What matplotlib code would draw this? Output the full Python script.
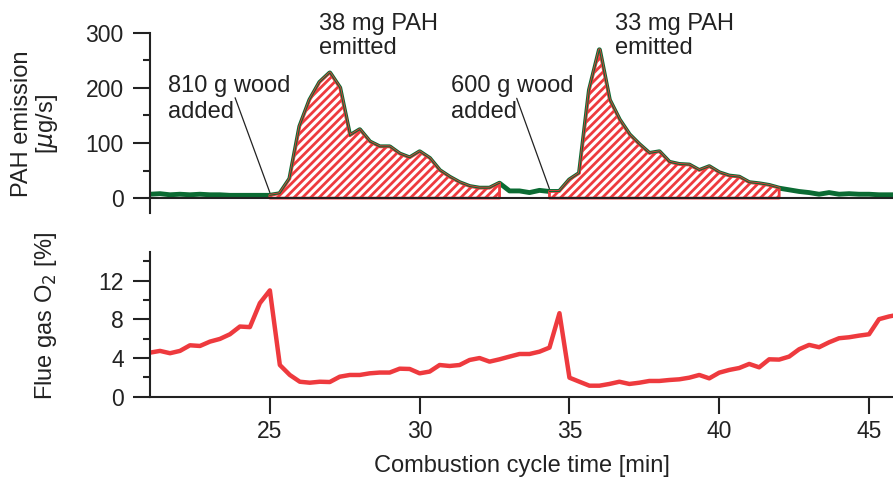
import numpy as np
import matplotlib.pyplot as plt
from matplotlib.ticker import MultipleLocator

plt.rcParams['font.family'] = ['Liberation Sans', 'DejaVu Sans']
plt.rcParams['hatch.linewidth'] = 2.0

# sampling every 20 s over the combustion cycle
time_min = np.arange(21.0, 46.01, 1 / 3)

pah = [7, 8, 6, 7, 6, 7, 6, 6, 5, 5, 5, 5, 5,
       8, 35, 130, 178, 210, 227, 200, 113, 124, 102, 93, 93,
       80, 73, 84, 72, 50, 38, 28, 21, 18, 18, 27,
       13, 13, 10, 14, 12,
       12, 33, 45, 196, 269, 178, 142, 115, 97, 81, 84, 65, 61, 60,
       50, 57, 46, 40, 38, 28, 26, 23, 18,
       15, 12, 10, 7, 10, 7, 8, 7, 7, 6, 6, 6]

o2 = [4.56, 4.74, 4.5, 4.74, 5.32, 5.25, 5.7, 5.98, 6.46, 7.26, 7.2, 9.68, 11.0,
      3.28, 2.25, 1.55, 1.45, 1.55, 1.52, 2.07, 2.25, 2.25, 2.42, 2.5, 2.5,
      2.9, 2.87, 2.42, 2.6, 3.28, 3.18, 3.28, 3.8, 4.0, 3.63, 3.87,
      4.15, 4.42, 4.42, 4.66, 5.08, 8.64, 1.97, 1.55, 1.14, 1.14, 1.32, 1.55,
      1.32, 1.45, 1.63, 1.63, 1.73, 1.8, 1.97, 2.25, 1.9, 2.49, 2.77, 2.97,
      3.39, 3.04, 3.87, 3.84, 4.15, 4.91, 5.36, 5.12, 5.63, 6.05, 6.15, 6.32,
      6.46, 8.02, 8.3, 8.5]

# wood additions (start of window) and the integrated emission windows
fill_start = [25.0, 34.33]
fill_end = [32.67, 42.0]
wood_labels = ["810 g wood\nadded", "600 g wood\nadded"]
mass_labels = ["38 mg PAH\nemitted", "33 mg PAH\nemitted"]

green = '#0b6b33'
red = '#ee3a3e'
dark = '#222222'
fs = 17

t = np.array(time_min)
pah = np.array(pah, dtype=float)
o2 = np.array(o2, dtype=float)

fig = plt.figure(figsize=(8.93, 4.80), dpi=100)
ax1 = fig.add_axes([0.168, 0.5563, 0.832, 0.3756])
ax2 = fig.add_axes([0.168, 0.1735, 0.832, 0.3021])

# PAH emission
ax1.plot(t, pah, color=green, lw=3.5, solid_joinstyle='round', zorder=2)
for start, end in zip(fill_start, fill_end):
    m = (t >= start - 0.01) & (t <= end + 0.01)
    ax1.fill_between(t[m], 0, pah[m], facecolor='white', edgecolor=red,
                     hatch='////', linewidth=2.0, zorder=3)
    ax1.plot(t[m], pah[m], color=green, lw=0.8, zorder=4)

ax1.set_xlim(21, 45.8)
ax1.set_ylim(-27, 300)
ax1.yaxis.set_major_locator(MultipleLocator(100))
ax1.yaxis.set_minor_locator(MultipleLocator(50))
ax1.spines['bottom'].set_position(('data', 0))
ax1.spines['bottom'].set_zorder(5)
ax1.spines['top'].set_visible(False)
ax1.spines['right'].set_visible(False)
ax1.tick_params(axis='x', bottom=False, labelbottom=False)

# wood addition labels with leader lines down to the start of each window
label_x = [21.6, 31.05]
leader_from = [(23.84, 182), (33.24, 181)]
for i in range(2):
    ax1.text(label_x[i], 224, wood_labels[i], ha='left', va='top',
             fontsize=fs, color=dark, linespacing=1.25)
    start = fill_start[i]
    ax1.annotate("", xy=(start, np.interp(start, t, pah) + 5),
                 xytext=leader_from[i],
                 arrowprops=dict(arrowstyle='-', lw=0.9, color=dark,
                                 shrinkA=0, shrinkB=0))

mass_x = [26.63, 36.53]
for i in range(2):
    ax1.text(mass_x[i], 335, mass_labels[i], ha='left', va='top',
             fontsize=fs, color=dark, clip_on=False, linespacing=1.1)

# flue gas oxygen
ax2.plot(t, o2, color=red, lw=3.2, solid_joinstyle='round')
ax2.set_xlim(21, 45.8)
ax2.set_ylim(0, 15)
ax2.xaxis.set_major_locator(MultipleLocator(5))
ax2.yaxis.set_major_locator(MultipleLocator(4))
ax2.yaxis.set_minor_locator(MultipleLocator(2))
ax2.spines['top'].set_visible(False)
ax2.spines['right'].set_visible(False)

for ax in (ax1, ax2):
    for s in ('left', 'bottom'):
        ax.spines[s].set_linewidth(1.5)
        ax.spines[s].set_color(dark)
    ax.tick_params(which='major', length=12, width=1.5, color=dark,
                   labelsize=16.5, labelcolor=dark)
    ax.tick_params(which='minor', length=5, width=1.5, color=dark)
    ax.tick_params(axis='y', pad=7)
    ax.tick_params(axis='x', pad=5)
    ax.patch.set_alpha(0)

fig.text(0.040, 0.742, "PAH emission\n[$\\mu$g/s]", rotation=90, ha='center',
         va='center', fontsize=fs, color=dark, multialignment='center',
         linespacing=1.05)
fig.text(0.052, 0.342, "Flue gas O$_2$ [%]", rotation=90, ha='center',
         va='center', fontsize=fs, color=dark)
fig.text(0.584, 0.0173, "Combustion cycle time [min]", ha='center',
         va='baseline', fontsize=fs, color=dark)

fig.savefig('out.png', dpi=100)
